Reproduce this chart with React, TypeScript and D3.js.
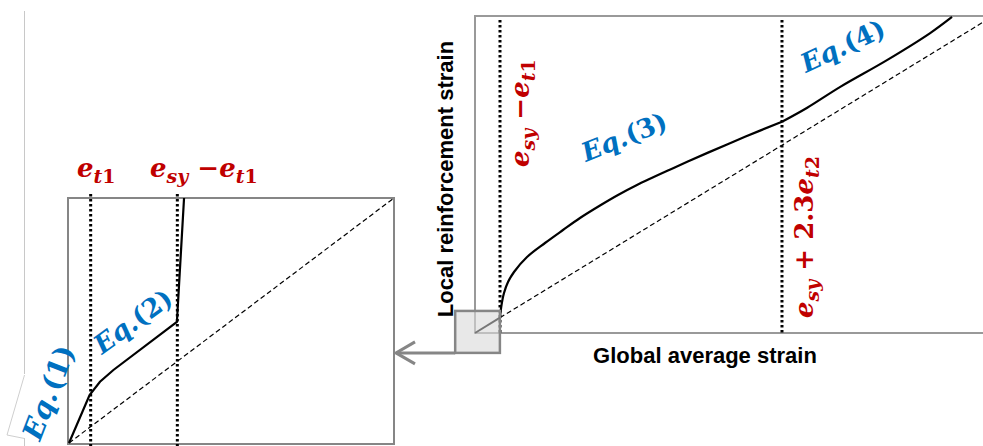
import React from 'react';
import * as d3 from 'd3';

// right panel: global strain vs local bar strain (arbitrary units)
const eq3X = [4.92, 5.22, 5.71, 6.5, 7.68, 10.24, 13.78, 17.32, 20.67, 24.61, 28.15, 31.69, 38.78, 45.87, 53.15, 60.43];
const eq3Y = [5.15, 9.01, 12.87, 16.41, 19.63, 24.45, 28.96, 33.14, 37.0, 41.02, 44.4, 47.46, 52.86, 58.04, 63.13, 67.99];
const eq4X = [60.43, 65.4, 71.9, 81.1, 89.6, 93.9];
const eq4Y = [67.99, 72.5, 79.2, 87.8, 96.5, 101.7];
const rightMarks = [4.92, 60.43]; // esy - et1, esy + 2.3 et2
const bareBarR = [0, 100];

// left panel: zoom on the start of the curve
const eq12X = [0, 0.95, 1.43, 2.05, 4.98, 5.31];
const eq12Y = [0, 2.94, 3.75, 4.47, 7.41, 15];
const leftMarks = [1, 5]; // et1, esy - et1
const bareBarL = [0, 15];

// window of the right panel that the left panel enlarges
const zoomWinX = [-3.9, 4.9];
const zoomWinY = [-6.4, 7.1];

const W = 983;
const H = 446;
const RED = '#C00000';
const BLUE = '#0070C0';
const GREY = '#868686';
const MATH = '"DejaVu Serif", serif';
const SANS = '"Liberation Sans", Arial, sans-serif';

const xR = d3.scaleLinear().domain([0, 100]).range([475, 983]);
const yR = d3.scaleLinear().domain([0, 102]).range([333, 16]);
const xL = d3.scaleLinear().domain([0, 15]).range([69, 394]);
const yL = d3.scaleLinear().domain([0, 15]).range([443, 198]);

function pts(xs: number[], ys: number[]) {
  return xs.map((x, i) => [x, ys[i]] as [number, number]);
}

export default function App() {
  const lineR = d3.line<[number, number]>().x(d => xR(d[0])).y(d => yR(d[1]));
  const smoothR = d3.line<[number, number]>().x(d => xR(d[0])).y(d => yR(d[1])).curve(d3.curveCatmullRom.alpha(0.5));
  const lineL = d3.line<[number, number]>().x(d => xL(d[0])).y(d => yL(d[1]));

  const sq = {
    x: xR(zoomWinX[0]),
    y: yR(zoomWinY[1]),
    w: xR(zoomWinX[1]) - xR(zoomWinX[0]),
    h: yR(zoomWinY[0]) - yR(zoomWinY[1]),
  };
  const arrowY = sq.y + sq.h;
  const arrowTip = xL(15) + 2;

  const mathStyle = { fontFamily: MATH, fontWeight: 'bold', fontSize: 26, fill: RED } as const;
  const eqStyle = { fontFamily: MATH, fontWeight: 'bold', fontSize: 26, fill: BLUE } as const;
  const axisStyle = { fontFamily: SANS, fontWeight: 'bold', fontSize: 22, fill: '#000' } as const;

  return (
    <svg width={W} height={H} style={{ position: 'fixed', left: 0, top: 0, background: '#fff' }}>
      {/* faint left page line */}
      <line x1={24.5} x2={24.5} y1={11} y2={H} stroke="#c8c8c8" strokeWidth={1} />

      {/* ---------- left panel ---------- */}
      <rect x={xL(0) - 1} y={yL(15)} width={xL(15) - xL(0) + 1} height={yL(0) - yL(15) + 1}
        fill="none" stroke={GREY} strokeWidth={2} />
      <path d={lineL(pts(bareBarL, bareBarL)) || ''} stroke="#000" strokeWidth={1.2} strokeDasharray="5,3" fill="none" />
      {leftMarks.map(m => (
        <line key={m} x1={xL(m)} x2={xL(m)} y1={yL(15) - 4} y2={H} stroke="#000" strokeWidth={3} strokeDasharray="2.5,2.5" />
      ))}
      <path d={lineL(pts(eq12X, eq12Y)) || ''} stroke="#000" strokeWidth={2.2} fill="none" />

      <text x={77} y={177} style={mathStyle}>
        <tspan fontStyle="italic">e</tspan>
        <tspan fontStyle="italic" fontSize={19} dy={6}>t</tspan>
        <tspan fontSize={19}>1</tspan>
      </text>
      <text x={150} y={177} style={mathStyle}>
        <tspan fontStyle="italic">e</tspan>
        <tspan fontStyle="italic" fontSize={19} dy={6}>sy</tspan>
        <tspan dy={-6}> −</tspan>
        <tspan fontStyle="italic">e</tspan>
        <tspan fontStyle="italic" fontSize={19} dy={6}>t</tspan>
        <tspan fontSize={19}>1</tspan>
      </text>

      {/* white label box behind Eq.(1) */}
      <rect x={22} y={374} width={6} height={64} fill="#fff" />
      <polyline points="24.5,375 7,435 24.5,438.5" fill="none" stroke="#cfcfcf" strokeWidth={1} />

      <text transform="translate(40,442) rotate(-69)" style={{ ...eqStyle, fontSize: 28 }}>
        <tspan fontStyle="italic">Eq.</tspan><tspan dx={2}>(1)</tspan>
      </text>
      <text transform="translate(102,355) rotate(-36)" style={eqStyle}>
        <tspan fontStyle="italic">Eq.</tspan><tspan>(2)</tspan>
      </text>

      {/* ---------- right panel ---------- */}
      <rect x={xR(0)} y={yR(102)} width={W - xR(0) + 20} height={yR(0) - yR(102)}
        fill="none" stroke="#999" strokeWidth={2} />
      <path d={lineR(pts([rightMarks[0], bareBarR[1]], [rightMarks[0], bareBarR[1]])) || ''}
        stroke="#000" strokeWidth={1.2} strokeDasharray="5,3" fill="none" />
      {rightMarks.map(m => (
        <line key={m} x1={xR(m)} x2={xR(m)} y1={yR(102) + 4} y2={yR(0)} stroke="#000" strokeWidth={3} strokeDasharray="2.5,2.5" />
      ))}
      <path d={smoothR(pts(eq3X, eq3Y)) || ''} stroke="#000" strokeWidth={2.2} fill="none" />
      <path d={smoothR(pts(eq4X, eq4Y)) || ''} stroke="#000" strokeWidth={2.2} fill="none" />

      {/* zoom window + arrow */}
      <rect x={sq.x} y={sq.y} width={sq.w} height={sq.h} fill="#d9d9d9" fillOpacity={0.6} stroke={GREY} strokeWidth={2.5} />
      <path d={lineR(pts([0, rightMarks[0]], [0, rightMarks[0]])) || ''} stroke="#777" strokeWidth={2} fill="none" />
      <line x1={sq.x} x2={arrowTip} y1={arrowY} y2={arrowY} stroke={GREY} strokeWidth={3} />
      <polyline points={`${arrowTip + 19},${arrowY - 11} ${arrowTip},${arrowY} ${arrowTip + 19},${arrowY + 11}`}
        fill="none" stroke={GREY} strokeWidth={3} />

      <text transform="translate(529,167) rotate(-90)" style={mathStyle}>
        <tspan fontStyle="italic">e</tspan>
        <tspan fontStyle="italic" fontSize={19} dy={6}>sy</tspan>
        <tspan dy={-6}> −</tspan>
        <tspan fontStyle="italic">e</tspan>
        <tspan fontStyle="italic" fontSize={19} dy={6}>t</tspan>
        <tspan fontSize={19}>1</tspan>
      </text>
      <text transform="translate(813,318) rotate(-90)" style={mathStyle}>
        <tspan fontStyle="italic">e</tspan>
        <tspan fontStyle="italic" fontSize={19} dy={6}>sy</tspan>
        <tspan dy={-6}> + 2.3</tspan>
        <tspan fontStyle="italic">e</tspan>
        <tspan fontStyle="italic" fontSize={19} dy={6}>t</tspan>
        <tspan fontSize={19}>2</tspan>
      </text>

      <text transform="translate(586,162) rotate(-22)" style={eqStyle}>
        <tspan fontStyle="italic">Eq.</tspan><tspan>(3)</tspan>
      </text>
      <text transform="translate(806,73) rotate(-25)" style={eqStyle}>
        <tspan fontStyle="italic">Eq.</tspan><tspan>(4)</tspan>
      </text>

      <text transform="translate(453,179) rotate(-90)" textAnchor="middle" style={axisStyle}>
        Local reinforcement strain
      </text>
      <text x={705} y={363} textAnchor="middle" style={axisStyle}>
        Global average strain
      </text>
    </svg>
  );
}
